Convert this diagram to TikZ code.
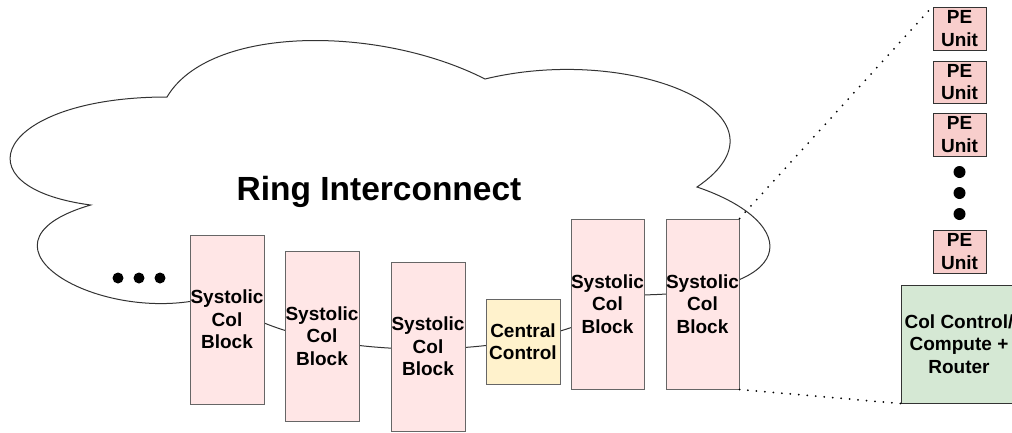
\documentclass[tikz,border=0pt]{standalone}
\usepackage{fontspec}
\setmainfont{Liberation Sans}
\definecolor{blockfill}{HTML}{FFE6E6}
\definecolor{ctrlfill}{HTML}{FFF2CC}
\definecolor{pefill}{HTML}{F8CECC}
\definecolor{routerfill}{HTML}{D5E8D4}
\definecolor{edge}{HTML}{666666}
\definecolor{darkedge}{HTML}{333333}
\begin{document}
\begin{tikzpicture}[x=1pt,y=-1pt,
  lbl/.style={font=\fontsize{19}{22.4}\selectfont\bfseries, align=center, inner sep=0pt},
  colblock/.style={lbl, draw=edge, fill=blockfill, line width=1pt, minimum width=74pt, minimum height=170pt},
  centralbox/.style={lbl, draw=edge, fill=ctrlfill, line width=1pt, minimum width=74pt, minimum height=85pt},
  pebox/.style={lbl, draw=darkedge, fill=pefill, line width=1pt, minimum width=53pt, minimum height=43pt},
  routerbox/.style={lbl, draw=darkedge, fill=routerfill, line width=1pt, minimum width=116pt, minimum height=118pt},
  cloudline/.style={draw=darkedge, line width=1pt},
  zoomline/.style={line width=2pt, line cap=round, dash pattern=on 0pt off 8.5pt},
  blob/.style={fill=black}]
\useasboundingbox (0,0) rectangle (1012,432);

% ring interconnect cloud
\path[cloudline, fill=white]
  (167,97) .. controls (-2.6,97) and (-45,187) .. (90.7,205)
  .. controls (-45,244.6) and (107.6,331) .. (217.9,295)
  .. controls (294.2,367) and (548.6,367) .. (633.4,295)
  .. controls (803,295) and (803,223) .. (697,187)
  .. controls (803,115) and (633.4,43) .. (485,79)
  .. controls (379,25) and (209.4,25) .. (167,97) -- cycle;
\node[font=\fontsize{33.5}{40}\selectfont\bfseries, anchor=base, inner sep=0pt] (ring) at (379,200) {Ring Interconnect};

% further columns to the left
\fill[blob] (118,278) circle[radius=5.5];
\fill[blob] (139,278) circle[radius=5.5];
\fill[blob] (160,278) circle[radius=5.5];

% column blocks and central control
\node[colblock, minimum height=169pt] (b1) at (227,319.5) {Systolic\\Col\\Block};
\node[colblock] (b2) at (322,336) {Systolic\\Col\\Block};
\node[colblock, minimum height=169pt] (b3) at (428,346.5) {Systolic\\Col\\Block};
\node[centralbox] (cc) at (523,341.5) {Central\\Control};
\node[colblock, minimum width=73pt] (b4) at (607.5,304) {Systolic\\Col\\Block};
\node[colblock, minimum width=73pt] (b5) at (702.5,304) {Systolic\\Col\\Block};

% expanded column
\node[pebox] (pe1) at (959.5,28.5) {PE\\Unit};
\node[pebox, minimum height=42pt] (pe2) at (959.5,82) {PE\\Unit};
\node[pebox] (pe3) at (959.5,134.5) {PE\\Unit};
\fill[blob] (959.5,172) circle[radius=6];
\fill[blob] (959.5,193) circle[radius=6];
\fill[blob] (959.5,214) circle[radius=6];
\node[pebox] (pe4) at (959.5,251.5) {PE\\Unit};
\node[routerbox] (router) at (959,344) {Col Control/\\Compute +\\Router};

% zoom guides
\draw[zoomline] (b5.north east) -- (pe1.north west);
\draw[zoomline] (b5.south east) -- (router.south west);
\end{tikzpicture}
\end{document}
